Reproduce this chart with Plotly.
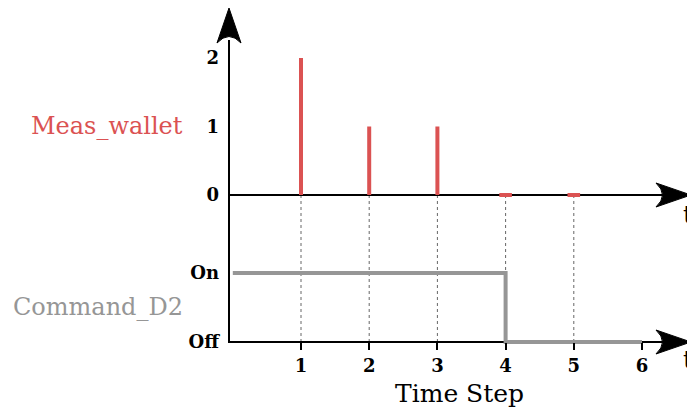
import plotly.graph_objects as go

# ---- data ----
time_steps = [1, 2, 3, 4, 5]
meas_wallet = [2, 1, 1, 0, 0]
cmd_steps = [0, 1, 2, 3, 4, 5, 6]
command_d2 = [1, 1, 1, 1, 0, 0, 0]
x_ticks = [1, 2, 3, 4, 5, 6]
top_ticks = [0, 1, 2]
bot_ticks = [0, 1]
bot_ticktext = ["Off", "On"]

W, H = 695, 411
OX, OY = 8, 8          # page body margin
FW, FH = W - OX, H - OY
RED = "rgb(219,82,82)"
GRAY = "rgb(150,150,150)"
SERIF = "DejaVu Serif"


def P(px, py):
    """reference pixel -> paper coords"""
    return (px - OX) / FW, 1 - (py - OY) / FH


# pixel geometry of the reference (used only to place axes)
px_per_x = 68.2
x_left = 1 - (301 - OX) / px_per_x
x_range = [x_left, x_left + FW / px_per_x]
top_ppu, top_zero = 68.5, 195
bot_ppu, bot_zero = 69.0, 342
ytop_range = [(top_zero - OY - FH) / top_ppu, (top_zero - OY) / top_ppu]
ybot_range = [(bot_zero - OY - FH) / bot_ppu, (bot_zero - OY) / bot_ppu]
axis_px = 229


def path(points):
    s = ""
    for cmd, pts in points:
        coords = " ".join(f"{P(a, b)[0]:.5f},{P(a, b)[1]:.5f}" for a, b in pts)
        s += f"{cmd} {coords} "
    return s + "Z"


fig = go.Figure()

# red stems
sx, sy = [], []
for t, v in zip(time_steps, meas_wallet):
    sx += [t, t, None]
    sy += [0, v, None]
fig.add_trace(go.Scatter(x=sx, y=sy, mode="lines", line=dict(color=RED, width=4),
                         xaxis="x", yaxis="y", hoverinfo="skip", showlegend=False))
zx = [t for t, v in zip(time_steps, meas_wallet) if v == 0]
zy = [v for v in meas_wallet if v == 0]
fig.add_trace(go.Scatter(x=zx, y=zy, mode="markers",
                         marker=dict(symbol="line-ew", size=9, line=dict(color=RED, width=4)),
                         xaxis="x", yaxis="y", hoverinfo="skip", showlegend=False))

# gray step
fig.add_trace(go.Scatter(x=cmd_steps, y=command_d2, mode="lines", line_shape="hv",
                         line=dict(color=GRAY, width=4),
                         xaxis="x", yaxis="y2", hoverinfo="skip", showlegend=False))

shapes = []
# dotted guides
for t in time_steps:
    shapes.append(dict(type="line", xref="x", yref="paper", x0=t, x1=t,
                       y0=P(0, bot_zero)[1], y1=P(0, top_zero)[1],
                       line=dict(color="#666", width=1, dash="dot"), layer="below"))
# axis lines
for (a, b, c, d) in [(axis_px, 40, axis_px, 343), (axis_px, top_zero, 665, top_zero),
                     (axis_px, bot_zero, 665, bot_zero)]:
    xa, ya = P(a, b)
    xb, yb = P(c, d)
    shapes.append(dict(type="line", xref="paper", yref="paper", x0=xa, y0=ya, x1=xb, y1=yb,
                       line=dict(color="black", width=2), layer="below"))
# arrowheads (stealth)
up = path([("M", [(axis_px, 8)]), ("L", [(axis_px - 12, 43)]),
           ("Q", [(axis_px, 30), (axis_px + 12, 43)])])
shapes.append(dict(type="path", xref="paper", yref="paper", path=up,
                   fillcolor="black", line=dict(color="black", width=1)))
for yc in (top_zero, bot_zero):
    tip = 691
    rp = path([("M", [(tip, yc)]), ("L", [(tip - 35, yc - 12)]),
               ("Q", [(tip - 22, yc), (tip - 35, yc + 12)])])
    shapes.append(dict(type="path", xref="paper", yref="paper", path=rp,
                       fillcolor="black", line=dict(color="black", width=1)))

annotations = []
for txt, px, py, col, anchor, size in [("Meas_wallet", 185, 126, RED, "right", 24),
                                       ("Command_D2", 185, 307, GRAY, "right", 24),
                                       ("Time Step", 459, 393, "black", "center", 25),
                                       ("t", 695, 215, "black", "right", 24),
                                       ("t", 695, 360, "black", "right", 24)]:
    ax, ay = P(px, py)
    annotations.append(dict(text=txt, x=ax, y=ay, xref="paper", yref="paper",
                            xanchor=anchor, yanchor="middle", showarrow=False,
                            font=dict(family=SERIF, size=size, color=col)))

tickfont = dict(family=SERIF, size=18, color="black", weight="bold")
common = dict(showgrid=False, zeroline=False, showline=False)
ypos = P(axis_px, 0)[0]
xpos = P(0, bot_zero)[1]

fig.update_layout(
    width=FW, height=FH, margin=dict(l=0, r=0, t=0, b=0),
    paper_bgcolor="white", plot_bgcolor="rgba(0,0,0,0)",
    showlegend=False, shapes=shapes, annotations=annotations,
    xaxis=dict(range=x_range, domain=[0, 1], anchor="free", position=xpos,
               tickvals=x_ticks, ticks="outside", ticklen=7, tickwidth=2, tickcolor="black",
               tickfont=tickfont, **common),
    xaxis2=dict(range=x_range, domain=[0, 1], anchor="free", position=xpos, overlaying="x",
                tickvals=x_ticks, ticks="inside", ticklen=6, tickwidth=2, tickcolor="black",
                showticklabels=False, **common),
    yaxis=dict(range=ytop_range, domain=[0, 1], anchor="free", position=ypos,
               tickvals=top_ticks, ticks="", ticklabelstandoff=10, tickfont=tickfont, **common),
    yaxis2=dict(range=ybot_range, domain=[0, 1], anchor="free", position=ypos, overlaying="y",
                tickvals=bot_ticks, ticktext=bot_ticktext, ticks="", ticklabelstandoff=10,
                tickfont=tickfont, **common),
    yaxis3=dict(range=ytop_range, domain=[0, 1], anchor="free", position=ypos, overlaying="y",
                tickvals=top_ticks[1:], ticks="outside", ticklen=7, tickwidth=2,
                tickcolor="black", showticklabels=False, **common),
    yaxis4=dict(range=ytop_range, domain=[0, 1], anchor="free", position=ypos, overlaying="y",
                tickvals=top_ticks[1:], ticks="inside", ticklen=7, tickwidth=2,
                tickcolor="black", showticklabels=False, **common),
    yaxis5=dict(range=ybot_range, domain=[0, 1], anchor="free", position=ypos, overlaying="y",
                tickvals=bot_ticks[1:], ticks="outside", ticklen=7, tickwidth=2,
                tickcolor="black", showticklabels=False, **common),
)

fig.write_html("out.html")
